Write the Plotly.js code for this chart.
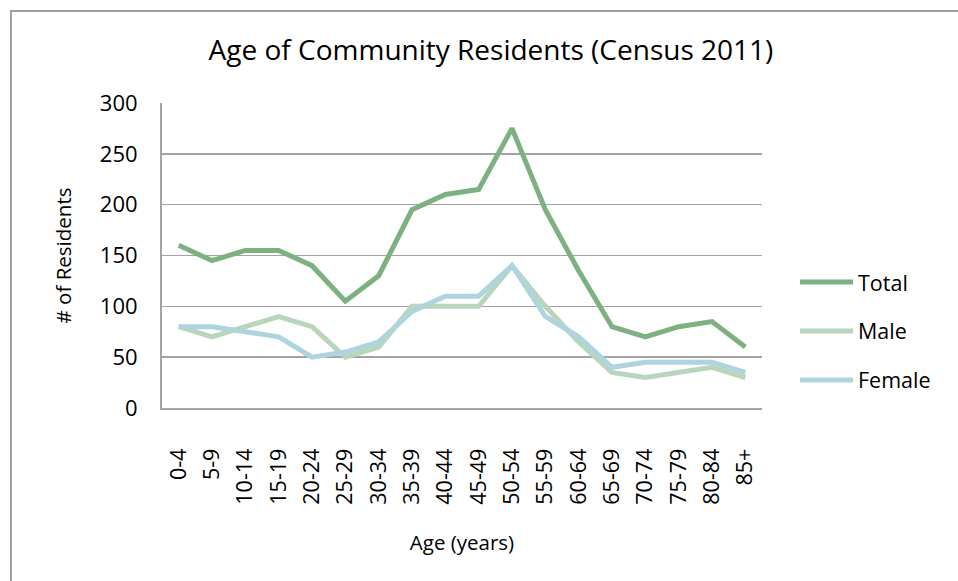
<!DOCTYPE html>
<html>
<head>
<meta charset="utf-8">
<script src="https://cdn.plot.ly/plotly-3.0.1.min.js"></script>
<style>
html,body{margin:0;padding:0;background:#fff;}
#chart{width:958px;height:581px;}
</style>
</head>
<body>
<div id="chart"></div>
<script>
const ageGroups = ["0-4","5-9","10-14","15-19","20-24","25-29","30-34","35-39","40-44","45-49","50-54","55-59","60-64","65-69","70-74","75-79","80-84","85+"];
const totalResidents = [160,145,155,155,140,105,130,195,210,215,275,195,135,80,70,80,85,60];
const maleResidents = [80,70,80,90,80,50,60,100,100,100,140,100,65,35,30,35,40,30];
const femaleResidents = [80,80,75,70,50,55,65,95,110,110,140,90,70,40,45,45,45,35];
const yTicks = [0,50,100,150,200,250,300];

const FONT = "'Open Sans', 'Noto Sans', sans-serif";
const GRID = "#a3a3a3";

const traces = [
  {x: ageGroups, y: totalResidents, name: "Total", type: "scatter", mode: "lines",
   line: {color: "#7db181", width: 5}, legendgroup: "a"},
  {x: ageGroups, y: maleResidents, name: "Male", type: "scatter", mode: "lines",
   line: {color: "#b9d5bb", width: 5}, legendgroup: "b"},
  {x: ageGroups, y: femaleResidents, name: "Female", type: "scatter", mode: "lines",
   line: {color: "#aed4de", width: 5}, legendgroup: "c"}
];

const layout = {
  width: 958, height: 581,
  margin: {l: 162, r: 196, t: 103, b: 173, pad: 0},
  paper_bgcolor: "#fff", plot_bgcolor: "#fff",
  font: {family: FONT, size: 20, color: "#000"},
  title: {text: "Age of Community Residents (Census 2011)", font: {family: FONT, size: 28, color: "#000"},
          x: 0.5125, xref: "container", xanchor: "center", y: 0.914, yref: "container", yanchor: "middle"},
  xaxis: {
    type: "category", range: [-0.5, 17.5], tickangle: -90,
    showgrid: false, showline: true, linecolor: GRID, linewidth: 2,
    ticks: "", ticklabelstandoff: 30, tickfont: {size: 21.5},
    title: {text: "Age (years)", font: {size: 20.5}, standoff: 32}
  },
  yaxis: {
    range: [0, 300], tickvals: yTicks, showgrid: true, gridcolor: GRID, gridwidth: 1.5,
    showline: true, linecolor: GRID, linewidth: 2, zeroline: false, ticks: "",
    ticklabelstandoff: 18, tickfont: {size: 22},
    title: {text: "# of Residents", font: {size: 20.5}, standoff: 23}
  },
  showlegend: true,
  legend: {x: 1.055, y: 0.252, xanchor: "left", yanchor: "middle", font: {size: 21.5},
           itemwidth: 53, traceorder: "grouped", tracegroupgap: 18, bgcolor: "rgba(0,0,0,0)"},
  shapes: [{type: "rect", xref: "paper", yref: "paper", x0: -0.2517, x1: 1.6, y0: -1, y1: 1.3016,
            line: {color: "#a0a0a0", width: 2}, fillcolor: "rgba(0,0,0,0)", layer: "below"}]
};

Plotly.newPlot("chart", traces, layout, {displayModeBar: false, staticPlot: true});
</script>
</body>
</html>
